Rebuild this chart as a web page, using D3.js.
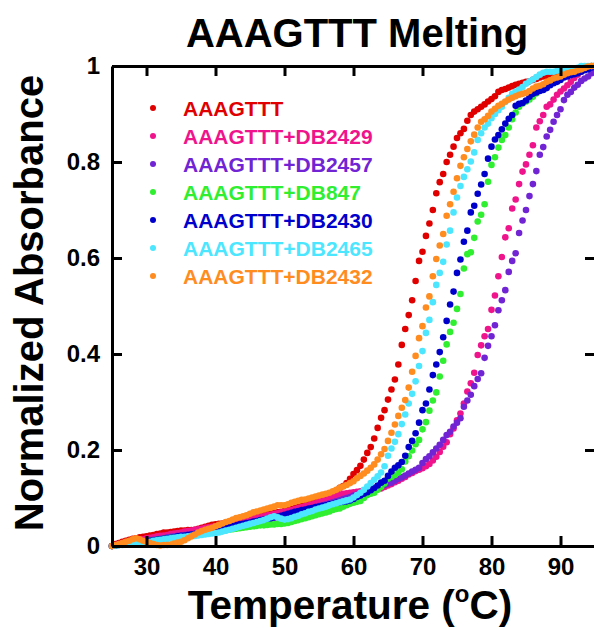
<!DOCTYPE html>
<html>
<head>
<meta charset="utf-8">
<script src="https://cdn.jsdelivr.net/npm/d3@7/dist/d3.min.js"></script>
<style>
  html, body { margin: 0; padding: 0; background: #fff; }
  svg { display: block; font-family: "Liberation Sans", Arial, Helvetica, sans-serif; font-weight: bold; }
</style>
</head>
<body>
<svg id="chart" width="594" height="628"></svg>
<script>
const temperatures = [
25,25.5,26,26.5,27,27.5,28,28.5,29,29.5,
30,30.5,31,31.5,32,32.5,33,33.5,34,34.5,
35,35.5,36,36.5,37,37.5,38,38.5,39,39.5,
40,40.5,41,41.5,42,42.5,43,43.5,44,44.5,
45,45.5,46,46.5,47,47.5,48,48.5,49,49.5,
50,50.5,51,51.5,52,52.5,53,53.5,54,54.5,
55,55.5,56,56.5,57,57.5,58,58.5,59,59.5,
60,60.5,61,61.5,62,62.5,63,63.5,64,64.5,
65,65.5,66,66.5,67,67.5,68,68.5,69,69.5,
70,70.5,71,71.5,72,72.5,73,73.5,74,74.5,
75,75.5,76,76.5,77,77.5,78,78.5,79,79.5,
80,80.5,81,81.5,82,82.5,83,83.5,84,84.5,
85,85.5,86,86.5,87,87.5,88,88.5,89,89.5,
90,90.5,91,91.5,92,92.5,93,93.5,94,94.5,
95];

const seriesNames = ["AAAGTTT","AAAGTTT+DB2429","AAAGTTT+DB2457","AAAGTTT+DB847","AAAGTTT+DB2430","AAAGTTT+DB2465","AAAGTTT+DB2432"];
const seriesColors = ["#e00000","#f0148c","#7024d4","#30ee30","#0000cc","#4ce6ff","#ff8c1f"];

const valsAAAGTTT = [
0.000,0.004,0.006,0.009,0.011,0.013,0.015,0.016,0.018,0.019,
0.020,0.022,0.023,0.025,0.026,0.028,0.028,0.029,0.030,0.031,
0.032,0.032,0.033,0.033,0.034,0.036,0.038,0.040,0.042,0.044,
0.045,0.046,0.047,0.049,0.050,0.051,0.052,0.054,0.055,0.056,
0.058,0.059,0.061,0.062,0.064,0.066,0.067,0.069,0.070,0.071,
0.073,0.075,0.077,0.079,0.081,0.083,0.085,0.087,0.089,0.091,
0.094,0.097,0.100,0.104,0.108,0.112,0.121,0.125,0.131,0.140,
0.150,0.158,0.167,0.180,0.194,0.206,0.224,0.246,0.267,0.283,
0.305,0.326,0.347,0.378,0.419,0.452,0.481,0.512,0.552,0.594,
0.613,0.646,0.672,0.700,0.735,0.758,0.775,0.800,0.815,0.832,
0.850,0.860,0.869,0.886,0.898,0.905,0.910,0.915,0.920,0.926,
0.931,0.937,0.946,0.950,0.952,0.955,0.958,0.961,0.963,0.965,
0.967,0.968,0.971,0.973,0.976,0.978,0.980,0.983,0.985,0.987,
0.989,0.991,0.992,0.993,0.994,0.995,0.996,0.997,0.998,0.999,
1.000];

const valsDB2429 = [
0.000,0.002,0.004,0.006,0.008,0.010,0.011,0.012,0.013,0.014,
0.016,0.017,0.018,0.020,0.021,0.022,0.023,0.025,0.026,0.027,
0.028,0.030,0.031,0.032,0.034,0.035,0.036,0.038,0.039,0.040,
0.041,0.043,0.044,0.046,0.047,0.049,0.050,0.052,0.053,0.055,
0.056,0.058,0.059,0.061,0.062,0.064,0.065,0.067,0.068,0.070,
0.071,0.073,0.075,0.077,0.079,0.081,0.083,0.085,0.087,0.089,
0.092,0.095,0.098,0.101,0.103,0.105,0.107,0.109,0.110,0.111,
0.112,0.113,0.114,0.115,0.116,0.117,0.118,0.119,0.120,0.123,
0.126,0.129,0.133,0.136,0.140,0.144,0.149,0.152,0.156,0.159,
0.162,0.166,0.171,0.178,0.186,0.196,0.207,0.216,0.233,0.245,
0.262,0.276,0.297,0.322,0.339,0.361,0.398,0.418,0.437,0.452,
0.492,0.522,0.562,0.602,0.643,0.662,0.703,0.722,0.754,0.780,
0.795,0.815,0.835,0.872,0.885,0.898,0.915,0.920,0.930,0.940,
0.947,0.953,0.960,0.967,0.975,0.982,0.988,0.993,0.997,1.000,
1.000];

const valsDB2457 = [
0.000,0.001,0.003,0.004,0.005,0.006,0.007,0.008,0.009,0.010,
0.011,0.012,0.013,0.014,0.015,0.016,0.018,0.019,0.020,0.021,
0.022,0.023,0.024,0.025,0.026,0.027,0.028,0.029,0.031,0.032,
0.033,0.035,0.036,0.038,0.039,0.041,0.042,0.044,0.045,0.047,
0.048,0.050,0.051,0.053,0.054,0.056,0.057,0.059,0.060,0.062,
0.063,0.065,0.067,0.069,0.071,0.073,0.075,0.077,0.079,0.081,
0.083,0.085,0.087,0.089,0.091,0.093,0.095,0.098,0.100,0.102,
0.105,0.107,0.110,0.112,0.114,0.117,0.119,0.121,0.124,0.127,
0.130,0.132,0.136,0.140,0.143,0.147,0.151,0.155,0.159,0.163,
0.173,0.181,0.187,0.195,0.203,0.211,0.221,0.231,0.238,0.249,
0.257,0.266,0.290,0.303,0.315,0.333,0.348,0.360,0.392,0.417,
0.437,0.460,0.491,0.512,0.533,0.571,0.594,0.610,0.652,0.678,
0.700,0.729,0.754,0.781,0.815,0.831,0.853,0.867,0.884,0.898,
0.910,0.929,0.940,0.946,0.955,0.961,0.969,0.974,0.978,0.985,
0.988];

const valsDB847 = [
0.000,0.001,0.002,0.003,0.004,0.005,0.006,0.007,0.008,0.009,
0.010,0.011,0.012,0.013,0.014,0.015,0.016,0.017,0.018,0.019,
0.020,0.021,0.022,0.023,0.024,0.025,0.026,0.027,0.028,0.029,
0.030,0.031,0.032,0.033,0.034,0.035,0.036,0.037,0.038,0.039,
0.040,0.041,0.042,0.043,0.043,0.044,0.045,0.045,0.046,0.046,
0.047,0.048,0.050,0.052,0.054,0.056,0.058,0.060,0.062,0.064,
0.066,0.068,0.070,0.072,0.075,0.077,0.078,0.082,0.085,0.088,
0.090,0.092,0.094,0.100,0.106,0.109,0.111,0.117,0.123,0.130,
0.140,0.144,0.148,0.153,0.160,0.176,0.187,0.199,0.212,0.221,
0.243,0.258,0.282,0.303,0.320,0.353,0.386,0.420,0.446,0.465,
0.494,0.525,0.578,0.608,0.612,0.642,0.676,0.690,0.712,0.759,
0.794,0.810,0.830,0.846,0.856,0.872,0.889,0.903,0.915,0.922,
0.926,0.930,0.936,0.943,0.950,0.957,0.964,0.968,0.971,0.975,
0.978,0.982,0.985,0.987,0.988,0.990,0.993,0.996,0.999,1.000,
1.000];

const valsDB2430 = [
0.000,0.001,0.002,0.003,0.004,0.005,0.006,0.007,0.008,0.009,
0.010,0.011,0.012,0.013,0.014,0.015,0.016,0.017,0.018,0.020,
0.021,0.022,0.023,0.024,0.025,0.026,0.027,0.028,0.029,0.030,
0.031,0.033,0.035,0.037,0.039,0.041,0.043,0.045,0.046,0.048,
0.049,0.051,0.052,0.054,0.055,0.057,0.058,0.060,0.061,0.063,
0.065,0.067,0.069,0.071,0.073,0.075,0.076,0.078,0.079,0.081,
0.082,0.084,0.085,0.087,0.088,0.090,0.091,0.092,0.093,0.095,
0.098,0.102,0.105,0.109,0.112,0.116,0.121,0.126,0.132,0.136,
0.146,0.155,0.163,0.168,0.175,0.188,0.206,0.219,0.235,0.257,
0.283,0.297,0.326,0.356,0.378,0.404,0.435,0.469,0.503,0.530,
0.569,0.597,0.634,0.657,0.695,0.709,0.734,0.753,0.775,0.807,
0.832,0.847,0.856,0.868,0.880,0.890,0.898,0.917,0.921,0.923,
0.928,0.936,0.942,0.945,0.948,0.950,0.954,0.960,0.964,0.967,
0.971,0.976,0.978,0.981,0.983,0.985,0.988,0.991,0.993,0.997,
1.000];

const valsDB2465 = [
0.000,0.001,0.002,0.002,0.003,0.003,0.004,0.005,0.006,0.007,
0.008,0.009,0.011,0.012,0.013,0.014,0.015,0.016,0.017,0.018,
0.019,0.019,0.020,0.021,0.021,0.022,0.023,0.024,0.025,0.026,
0.027,0.028,0.030,0.032,0.034,0.036,0.038,0.040,0.042,0.044,
0.046,0.048,0.050,0.052,0.054,0.057,0.060,0.062,0.060,0.057,
0.055,0.056,0.058,0.061,0.063,0.066,0.068,0.071,0.073,0.076,
0.078,0.080,0.082,0.085,0.087,0.089,0.091,0.093,0.095,0.097,
0.101,0.106,0.111,0.117,0.124,0.131,0.138,0.145,0.153,0.166,
0.188,0.203,0.217,0.233,0.254,0.274,0.297,0.317,0.343,0.375,
0.406,0.444,0.471,0.508,0.544,0.569,0.592,0.628,0.657,0.695,
0.726,0.750,0.769,0.785,0.801,0.820,0.846,0.860,0.872,0.880,
0.891,0.900,0.908,0.915,0.925,0.934,0.942,0.947,0.951,0.956,
0.963,0.968,0.972,0.977,0.982,0.986,0.988,0.988,0.988,0.990,
0.991,0.993,0.993,0.994,0.995,0.996,1.000,1.000,1.000,1.000,
1.000];

const valsDB2432 = [
0.000,0.002,0.004,0.006,0.009,0.011,0.014,0.016,0.014,0.011,
0.009,0.006,0.004,0.002,0.001,0.002,0.002,0.003,0.005,0.007,
0.009,0.012,0.016,0.020,0.024,0.028,0.031,0.034,0.036,0.038,
0.041,0.044,0.047,0.050,0.052,0.055,0.058,0.060,0.062,0.064,
0.067,0.070,0.072,0.074,0.076,0.078,0.080,0.082,0.085,0.085,
0.085,0.087,0.090,0.092,0.094,0.096,0.097,0.099,0.101,0.103,
0.105,0.107,0.109,0.111,0.114,0.117,0.121,0.124,0.127,0.131,
0.135,0.141,0.146,0.151,0.157,0.163,0.170,0.180,0.191,0.202,
0.219,0.236,0.253,0.271,0.288,0.304,0.330,0.363,0.396,0.433,
0.458,0.497,0.520,0.562,0.598,0.626,0.650,0.688,0.712,0.738,
0.766,0.792,0.810,0.827,0.843,0.857,0.872,0.884,0.889,0.896,
0.905,0.911,0.917,0.921,0.926,0.930,0.934,0.937,0.940,0.942,
0.944,0.948,0.953,0.957,0.959,0.962,0.967,0.970,0.974,0.976,
0.978,0.982,0.985,0.987,0.988,0.991,0.993,0.996,0.999,1.000,
1.000];

const seriesValues = [valsAAAGTTT, valsDB2429, valsDB2457, valsDB847, valsDB2430, valsDB2465, valsDB2432];
const xTicks = [30,40,50,60,70,80,90];
const yTicks = [0,0.2,0.4,0.6,0.8,1];
const yTickLabels = ["0","0.2","0.4","0.6","0.8","1"];

(function draw(){
const svg = d3.select("#chart");
const pL = 112, pR = 595, pT = 66, pB = 546;
const x = d3.scaleLinear().domain([25,95]).range([pL,pR]);
const y = d3.scaleLinear().domain([0,1]).range([pB,pT]);

// data points
seriesValues.forEach((vals, si) => {
  const pts = temperatures.map((t,i) => ({t, v: vals[i]}));
  svg.append("g").selectAll("circle").data(pts).join("circle")
    .attr("cx", d => x(d.t)).attr("cy", d => y(d.v))
    .attr("r", 3.3).attr("fill", seriesColors[si]);
});

function styleAxis(g){
  g.select(".domain").attr("stroke","#000").attr("stroke-width",3);
  g.selectAll(".tick line").attr("stroke","#000").attr("stroke-width",3);
}

const gx = svg.append("g").attr("transform",`translate(0,${pB})`)
  .call(d3.axisBottom(x).tickValues(xTicks).tickSizeInner(-10).tickSizeOuter(0).tickPadding(12).tickFormat(d3.format("d")));
styleAxis(gx);
gx.selectAll("text").attr("font-size",24).attr("font-weight","bold").attr("fill","#000")
  .attr("font-family","'Liberation Sans', Arial, sans-serif");

const gxt = svg.append("g").attr("transform",`translate(0,${pT})`)
  .call(d3.axisTop(x).tickValues(xTicks).tickSizeInner(-10).tickSizeOuter(0).tickFormat(""));
styleAxis(gxt);

const gy = svg.append("g").attr("transform",`translate(${pL},0)`)
  .call(d3.axisLeft(y).tickValues(yTicks).tickSizeInner(-10).tickSizeOuter(0).tickPadding(12)
    .tickFormat((d,i) => yTickLabels[i]));
styleAxis(gy);
gy.selectAll("text").attr("font-size",24).attr("font-weight","bold").attr("fill","#000")
  .attr("font-family","'Liberation Sans', Arial, sans-serif");

const gyr = svg.append("g").attr("transform",`translate(${pR},0)`)
  .call(d3.axisRight(y).tickValues(yTicks).tickSizeInner(-10).tickSizeOuter(0).tickFormat(""));
styleAxis(gyr);

// title
svg.append("text").attr("x",357).attr("y",47).attr("text-anchor","middle")
  .attr("font-size",40).attr("font-weight","bold").text("AAAGTTT Melting");

// x label
const xl = svg.append("text").attr("x",350).attr("y",619).attr("text-anchor","middle")
  .attr("font-size",40.5).attr("font-weight","bold");
xl.append("tspan").text("Temperature (");
xl.append("tspan").attr("font-size",24).attr("dy",-17).text("o");
xl.append("tspan").attr("dy",17).text("C)");

// y label
svg.append("text").attr("transform","translate(43,303) rotate(-90)").attr("text-anchor","middle")
  .attr("font-size",40).attr("font-weight","bold").text("Normalized Absorbance");

// legend
const legend = svg.append("g");
seriesNames.forEach((name, i) => {
  const cy = 108 + i*28;
  legend.append("circle").attr("cx",153).attr("cy",cy).attr("r",3).attr("fill",seriesColors[i]);
  legend.append("text").attr("x",183).attr("y",cy+7.5).attr("font-size",21).attr("font-weight","bold")
    .attr("fill",seriesColors[i]).text(name);
});
})();
</script>
</body>
</html>
